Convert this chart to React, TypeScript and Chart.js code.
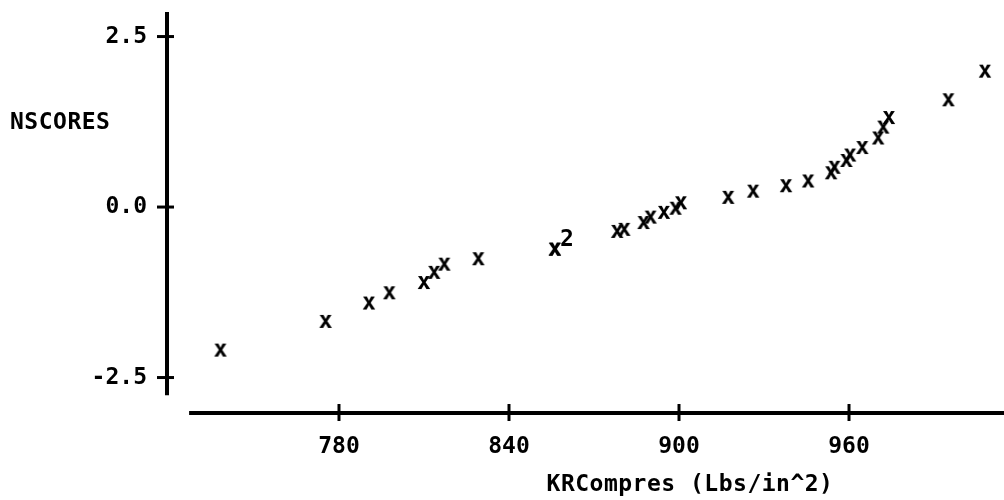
import React, { useEffect, useRef } from "react";
import { Chart, registerables } from "chart.js";

Chart.register(...registerables);

// KRCompres values (Lbs/in^2)
const KR_COMPRES = [
  738.2, 775.3, 790.6, 797.8, 810.0, 813.6, 817.2, 829.2, 856.2, 856.2,
  878.2, 880.7, 887.5, 890.0, 894.7, 898.8, 900.7, 917.4, 926.2, 937.8,
  945.6, 953.7, 954.9, 959.1, 960.4, 964.7, 970.3, 972.1, 974.1, 995.1, 1008.0,
];
// Normal scores
const NSCORES = [
  -2.09, -1.67, -1.4, -1.25, -1.1, -0.95, -0.83, -0.75, -0.61, -0.61,
  -0.35, -0.32, -0.22, -0.14, -0.07, -0.01, 0.07, 0.15, 0.24, 0.32,
  0.39, 0.51, 0.59, 0.69, 0.77, 0.88, 1.02, 1.18, 1.32, 1.58, 2.0,
];

const X_TICKS = [780, 840, 900, 960];
const Y_TICKS = [-2.5, 0, 2.5];
const X_TITLE = "KRCompres (Lbs/in^2)";
const Y_TITLE = "NSCORES";

const X_MIN = 719.3;
const X_MAX = 1014.7;
const Y_MIN = -3.02;
const Y_MAX = 2.86;
const X_AXIS_START = 727.1;
const Y_AXIS_END = -2.76;

const FONT_FAMILY = '"DejaVu Sans Mono", monospace';
const FONT_SIZE = 23;

function makeGlyph(): HTMLCanvasElement {
  const c = document.createElement("canvas");
  c.width = 24;
  c.height = 24;
  const g = c.getContext("2d")!;
  g.font = `bold 23px ${FONT_FAMILY}`;
  g.fillStyle = "#000";
  g.textAlign = "center";
  g.textBaseline = "alphabetic";
  const m = g.measureText("x");
  const asc = m.actualBoundingBoxAscent || 12;
  const desc = m.actualBoundingBoxDescent || 0;
  g.fillText("x", 12, 12 + (asc - desc) / 2);
  return c;
}

const zeroPadding = (s: any) => {
  s.paddingTop = 0;
  s.paddingBottom = 0;
  s.paddingLeft = 0;
  s.paddingRight = 0;
};

const customAxes = {
  id: "customAxes",
  afterDraw(chart: any) {
    const { ctx, chartArea, scales } = chart;
    const x = scales.x;
    const y = scales.y;
    const line = (x1: number, y1: number, x2: number, y2: number, w: number) => {
      ctx.lineWidth = w;
      ctx.beginPath();
      ctx.moveTo(x1, y1);
      ctx.lineTo(x2, y2);
      ctx.stroke();
    };
    ctx.save();
    ctx.strokeStyle = "#000";
    ctx.lineCap = "butt";
    // y axis
    line(chartArea.left, chartArea.top, chartArea.left, y.getPixelForValue(Y_AXIS_END), 4);
    Y_TICKS.forEach((v) => {
      const py = y.getPixelForValue(v);
      line(chartArea.left - 10, py, chartArea.left + 7, py, 3);
    });
    // x axis
    line(x.getPixelForValue(X_AXIS_START), chartArea.bottom, chartArea.right, chartArea.bottom, 4);
    X_TICKS.forEach((v) => {
      const px = x.getPixelForValue(v);
      line(px, chartArea.bottom - 9, px, chartArea.bottom + 8, 3);
    });
    // titles
    ctx.fillStyle = "#000";
    ctx.font = `bold ${FONT_SIZE}px ${FONT_FAMILY}`;
    try {
      (ctx as any).letterSpacing = "0.5px";
    } catch (e) {}
    ctx.textBaseline = "middle";
    ctx.textAlign = "left";
    ctx.fillText(Y_TITLE, 10, 123);
    ctx.textAlign = "center";
    ctx.fillText(X_TITLE, 690, 485);
    // multiplicity labels
    const counts = new Map<string, number>();
    KR_COMPRES.forEach((v, i) => {
      const k = `${v}|${NSCORES[i]}`;
      counts.set(k, (counts.get(k) || 0) + 1);
    });
    ctx.textAlign = "left";
    counts.forEach((n, k) => {
      if (n > 1) {
        const [vx, vy] = k.split("|").map(Number);
        ctx.fillText(String(n), x.getPixelForValue(vx) + 5, y.getPixelForValue(vy) - 9);
      }
    });
    ctx.restore();
  },
};

export default function App() {
  const ref = useRef<HTMLCanvasElement | null>(null);
  useEffect(() => {
    if (!ref.current) return;
    const tickFont = { family: FONT_FAMILY, size: FONT_SIZE, weight: "bold" as const };
    const chart = new Chart(ref.current, {
      type: "scatter",
      data: {
        datasets: [
          {
            data: KR_COMPRES.map((v, i) => ({ x: v, y: NSCORES[i] })),
            pointStyle: makeGlyph(),
            pointRadius: 6,
            showLine: false,
            clip: false,
          },
        ],
      },
      plugins: [customAxes],
      options: {
        animation: false,
        responsive: false,
        layout: { autoPadding: false, padding: { top: 12, right: 0, left: 0, bottom: 0 } },
        plugins: { legend: { display: false }, tooltip: { enabled: false } },
        scales: {
          x: {
            type: "linear",
            min: X_MIN,
            max: X_MAX,
            afterBuildTicks: (s: any) => {
              s.ticks = X_TICKS.map((v) => ({ value: v }));
            },
            afterFit: (s: any) => {
              s.height = 87;
              zeroPadding(s);
            },
            grid: { display: false, drawTicks: false },
            border: { display: false },
            ticks: {
              font: tickFont,
              color: "#000",
              padding: 20,
              maxRotation: 0,
              autoSkip: false,
              callback: (v: any) => String(v),
            },
          },
          y: {
            type: "linear",
            min: Y_MIN,
            max: Y_MAX,
            afterBuildTicks: (s: any) => {
              s.ticks = Y_TICKS.map((v) => ({ value: v }));
            },
            afterFit: (s: any) => {
              s.width = 167;
              zeroPadding(s);
            },
            grid: { display: false, drawTicks: false },
            border: { display: false },
            ticks: {
              font: tickFont,
              color: "#000",
              padding: 20,
              autoSkip: false,
              callback: (v: any) => Number(v).toFixed(1),
            },
          },
        },
      },
    });
    return () => chart.destroy();
  }, []);
  return (
    <div style={{ position: "absolute", left: 0, top: 0, width: 1004, height: 500, background: "#fff" }}>
      <canvas ref={ref} width={1004} height={500} />
    </div>
  );
}
